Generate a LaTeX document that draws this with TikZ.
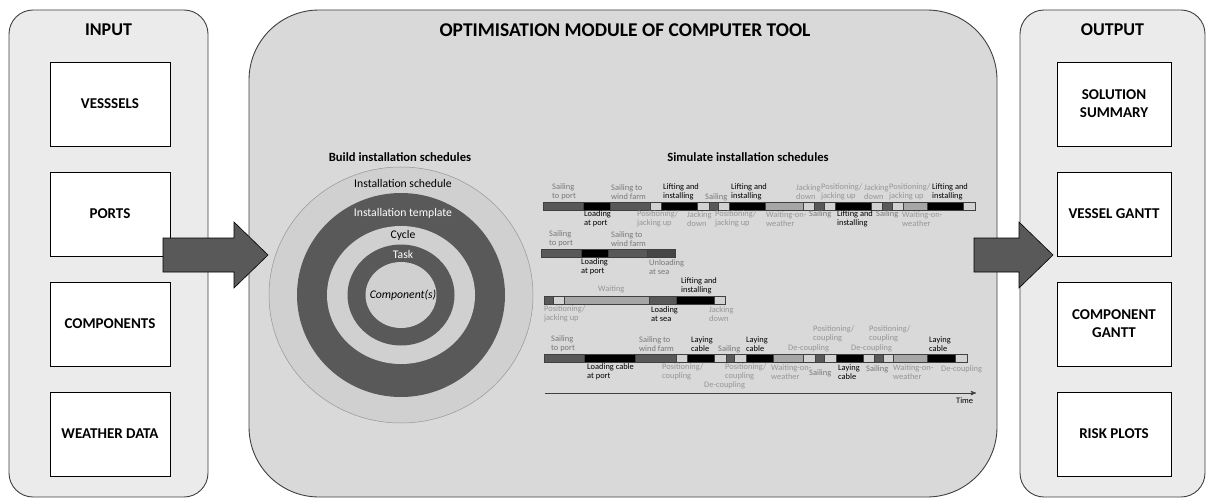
\documentclass[tikz,border=0pt]{standalone}
\usepackage{fontspec}
\setmainfont{Carlito}
\usetikzlibrary{arrows,calc,positioning}
\definecolor{my_edge}{RGB}{64,64,64}
\definecolor{my_side}{RGB}{235,235,235}
\definecolor{my_mid}{RGB}{217,217,217}
\definecolor{my_dark}{RGB}{89,89,89}
\definecolor{my_deep}{RGB}{70,70,70}
\definecolor{my_grey}{RGB}{166,166,166}
\definecolor{my_lite}{RGB}{210,210,210}
\definecolor{my_ring}{RGB}{208,208,208}
\definecolor{txt_mid}{RGB}{120,120,120}
\definecolor{txt_lite}{RGB}{150,150,150}
\tikzset{
  panel/.style = {draw=my_edge, line width=0.9pt, inner sep=0pt},
  headline/.style = {font=\fontsize{18}{19}\selectfont\bfseries, inner sep=0pt},
  subhead/.style = {font=\fontsize{12.6}{14}\selectfont\bfseries, inner sep=0pt},
  databox/.style = {draw=black, fill=white, line width=0.8pt, align=center,
  font=\fontsize{15}{18}\selectfont\bfseries, inner sep=0pt},
  inbox/.style = {databox, minimum width=120pt, minimum height=84pt},
  outbox/.style = {databox, minimum width=114pt, minimum height=84pt},
  ringtext/.style = {font=\fontsize{11.7}{13}\selectfont, inner sep=0pt},
  blockarrow/.style = {draw=black, fill=my_dark, line width=0.6pt},
  seg/.style = {draw=my_edge, line width=0.4pt},
  gl/.style = {font=\fontsize{8.4}{9}\selectfont, align=left, anchor=west, inner sep=0pt}
}

\begin{document}
\begin{tikzpicture}[x=1pt, y=-1pt, >=stealth']
  \useasboundingbox (0,0) rectangle (1214,503);

  % three panels
  \node [panel, fill=my_side, rounded corners=24pt, minimum width=199pt, minimum height=487pt]
    (inpanel) at (108.5,253.5) {};
  \node [panel, fill=my_mid, rounded corners=70pt, minimum width=748pt, minimum height=487pt]
    (optpanel) at (623,253.5) {};
  \node [panel, fill=my_side, rounded corners=24pt, minimum width=185pt, minimum height=487pt]
    (outpanel) at (1112.5,253.5) {};

  \node [headline] (inhead) at (108.5,30) {INPUT};
  \node [headline, font=\fontsize{19.5}{21}\selectfont\bfseries] (opthead) at (625,30)
    {OPTIMISATION MODULE OF COMPUTER TOOL};
  \node [headline] (outhead) at (1112.5,30) {OUTPUT};

  \node [inbox] (vessels) at (110,104) {VESSSELS};
  \node [inbox] (ports) at (110,214) {PORTS};
  \node [inbox] (comps) at (110,324) {COMPONENTS};
  \node [inbox] (weather) at (110,434) {WEATHER DATA};

  \node [outbox] (summary) at (1114,104) {SOLUTION\\SUMMARY};
  \node [outbox] (vgantt) at (1114,214) {VESSEL GANTT};
  \node [outbox] (cgantt) at (1114,324) {COMPONENT\\GANTT};
  \node [outbox] (risk) at (1114,434) {RISK PLOTS};

  % block arrows
  \draw [blockarrow] (163,238) -- (234,238) -- (234,222) -- (268,255) -- (234,288)
    -- (234,272) -- (163,272) -- cycle;
  \draw [blockarrow] (974,238) -- (1019,238) -- (1019,222) -- (1053,255) -- (1019,288)
    -- (1019,272) -- (974,272) -- cycle;

  \node [subhead] (buildhead) at (400,157) {Build installation schedules};
  \node [subhead] (simhead) at (748,157) {Simulate installation schedules};

  % nested rings
  \coordinate (ctr) at (401,295);
  \draw [draw=txt_lite, line width=0.5pt, fill=my_ring] (ctr) ellipse (132 and 128);
  \fill [my_dark] (ctr) ellipse (104 and 102);
  \fill [my_ring] (ctr) ellipse (74 and 69);
  \fill [my_dark] (ctr) ellipse (53.5 and 50.5);
  \fill [my_ring] (ctr) ellipse (35.5 and 33);
  \node [ringtext] (sched) at (403,183) {Installation schedule};
  \node [ringtext, text=white] (templ) at (403,213) {Installation template};
  \node [ringtext] (cycle) at (403,235) {Cycle};
  \node [ringtext, text=white] (task) at (403,254) {Task};
  \node [ringtext, font=\fontsize{11.7}{13}\selectfont\itshape] (comp) at (403,295) {Component(s)};

  % gantt bars
  \foreach \a/\b/\c in {543/583/my_dark, 583/610/black, 610/650/my_dark, 650/661/my_lite,
    661/697/black, 697/709/my_lite, 709/718/my_dark, 718/729/my_lite, 729/765/black,
    765/803/my_grey, 803/814/my_lite, 814/824/my_dark, 824/835/my_lite, 835/871/black,
    871/882/my_lite, 882/892/my_dark, 892/903/my_lite, 903/927/my_grey, 927/963/black,
    963/975/my_lite}
    \draw [seg, fill=\c] (\a,202) rectangle (\b,210);
  \foreach \a/\b/\c in {541/581/my_dark, 581/608/black, 608/647/my_dark, 647/675/my_deep}
    \draw [seg, fill=\c] (\a,249) rectangle (\b,257);
  \foreach \a/\b/\c in {544/553/my_dark, 553/564/my_lite, 564/649/my_grey, 649/676/my_dark,
    676/714/black, 714/725/my_lite}
    \draw [seg, fill=\c] (\a,296) rectangle (\b,304);
  \foreach \a/\b/\c in {544/584/my_dark, 584/635/black, 635/676/my_dark, 676/687/my_lite,
    687/714/black, 714/726/my_lite, 726/734/my_dark, 734/746/my_lite, 746/773/black,
    773/803/my_grey, 803/815/my_lite, 815/824/my_dark, 824/836/my_lite, 836/863/black,
    863/874/my_lite, 874/883/my_dark, 883/893/my_lite, 893/927/my_grey, 927/955/black,
    955/967/my_lite}
    \draw [seg, fill=\c] (\a,354) rectangle (\b,362);

  % gantt labels
  \foreach \x/\y/\c/\t [count=\i] in {
    552/192/txt_mid/{Sailing\\to port}, 611/192/txt_mid/{Sailing to\\wind farm},
    663/192/black/{Lifting and\\installing}, 705/197/txt_mid/{Sailing},
    731/192/black/{Lifting and\\installing}, 796/192/txt_lite/{Jacking\\down},
    821/192/txt_lite/{Positioning/\\jacking up}, 864/192/txt_lite/{Jacking\\down},
    889/192/txt_lite/{Positioning/\\jacking up}, 932/192/black/{Lifting and\\installing},
    584/219/black/{Loading\\at port}, 637/219/txt_lite/{Positioning/\\jacking up},
    687/219/txt_lite/{Jacking\\down}, 715/219/txt_lite/{Positioning/\\jacking up},
    766/219/txt_lite/{Waiting-on-\\weather}, 809/214/txt_mid/{Sailing},
    837/219/black/{Lifting and\\installing}, 876/214/txt_mid/{Sailing},
    902/219/txt_lite/{Waiting-on-\\weather}}
    \node [gl, text=\c] (rowa\i) at (\x,\y) {\t};
  \foreach \x/\y/\c/\t [count=\i] in {
    549/239/txt_mid/{Sailing\\to port}, 611/239/txt_mid/{Sailing to\\wind farm},
    581/267/black/{Loading\\at port}, 649/267/txt_mid/{Unloading\\at sea}}
    \node [gl, text=\c] (rowb\i) at (\x,\y) {\t};
  \foreach \x/\y/\c/\t [count=\i] in {
    598/289/txt_lite/{Waiting}, 681/286/black/{Lifting and\\installing},
    544/314/txt_lite/{Positioning/\\jacking up}, 651/314/black/{Loading\\at sea},
    709/314/txt_lite/{Jacking\\down}}
    \node [gl, text=\c] (rowc\i) at (\x,\y) {\t};
  \foreach \x/\y/\c/\t [count=\i] in {
    551/344/txt_mid/{Sailing\\to port}, 639/344/txt_mid/{Sailing to\\wind farm},
    691/344/black/{Laying\\cable}, 718/349/txt_mid/{Sailing},
    746/344/black/{Laying\\cable}, 813/334/txt_lite/{Positioning/\\coupling},
    788/348/txt_lite/{De-coupling}, 869/334/txt_lite/{Positioning/\\coupling},
    851/348/txt_lite/{De-coupling}, 929/344/black/{Laying\\cable},
    587/372/black/{Loading cable\\at port}, 662/372/txt_lite/{Positioning/\\coupling},
    725/372/txt_lite/{Positioning/\\coupling}, 704/385/txt_lite/{De-coupling},
    771/372/txt_lite/{Waiting-on-\\weather}, 809/373/txt_mid/{Sailing},
    838/372/black/{Laying\\cable}, 866/369/txt_mid/{Sailing},
    893/372/txt_lite/{Waiting-on-\\weather}, 941/369/txt_lite/{De-coupling}}
    \node [gl, text=\c] (rowd\i) at (\x,\y) {\t};

  % time axis
  \coordinate (t0) at (545,393);
  \coordinate (t1) at (976,393);
  \draw [->, my_edge, line width=0.9pt] (t0) -- (t1);
  \node [gl] (timelab) at (956,401) {Time};
\end{tikzpicture}
\end{document}
